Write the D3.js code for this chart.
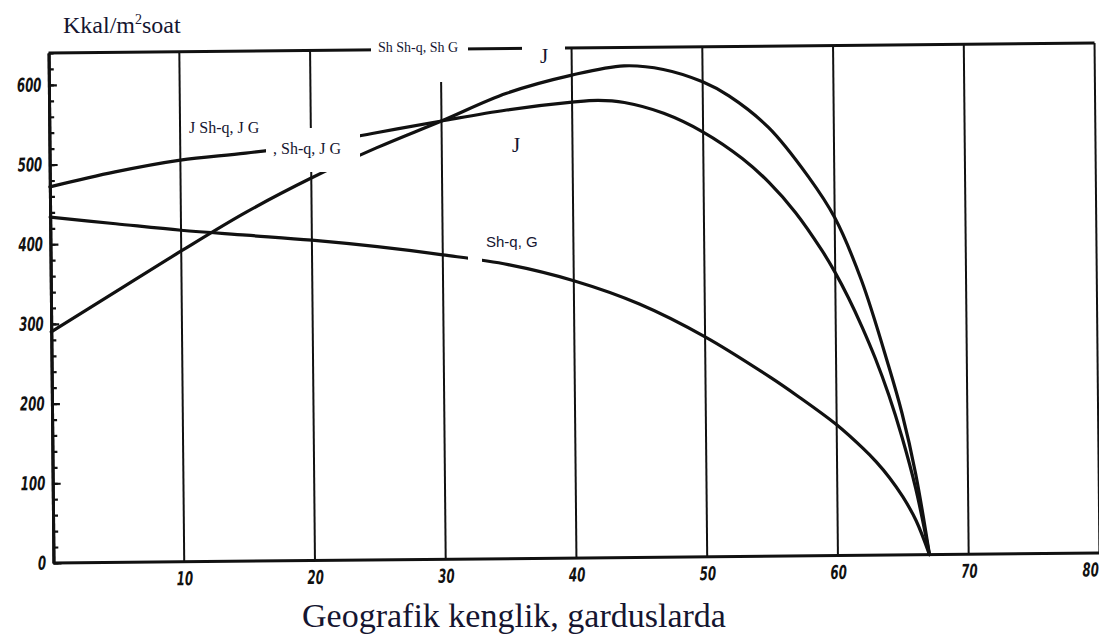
<!DOCTYPE html>
<html>
<head>
<meta charset="utf-8">
<script src="https://cdn.jsdelivr.net/npm/d3@7"></script>
<style>
    body { margin: 0; background: #fff; }
    svg { display: block; }
    .curve { fill: none; stroke: #111; stroke-width: 3.2; stroke-linecap: round; }
    .grid { stroke: #111; stroke-width: 2; }
    .axis path, .axis line { stroke: #111; }
    .axis path { stroke-width: 3; }
    .axis line { stroke-width: 2.2; }
    .axis text { font-family: "DejaVu Sans", sans-serif; font-weight: bold; font-style: italic; fill: #111; }
    .lbl { font-family: "Liberation Serif", "Times New Roman", serif; fill: #151530; }
</style>
</head>
<body>
<svg width="1099" height="636"></svg>
<script>
// latitude (degrees) and flux values (kcal/m2 per hour)
var upperLat = [0, 5, 10, 15, 20, 25, 30, 35, 40, 44, 47, 50, 52, 55, 58, 60, 62, 64, 65, 66, 67];
var upperVal = [290, 340, 390, 438, 480, 517, 550, 584, 606, 617, 612, 596, 578, 538, 476, 424, 345, 238, 178, 102, 0];

var middleLat = [0, 5, 10, 15, 20, 25, 30, 35, 40, 42, 44, 47, 50, 53, 55, 57, 59, 60, 61, 62, 63, 64, 65, 66, 67];
var middleVal = [472, 490, 504, 512, 522, 536, 550, 563, 572, 574, 571, 557, 533, 499, 469, 431, 383, 355, 323, 287, 247, 201, 147, 83, 0];

var lowerLat = [0, 5, 10, 15, 20, 25, 30, 35, 40, 45, 50, 55, 57, 60, 62, 63, 64, 65, 66, 67];
var lowerVal = [434, 425, 416, 409, 402, 393, 382, 369, 348, 318, 276, 224, 201, 164, 134, 117, 97, 73, 43, 0];

var xTicks = [10, 20, 30, 40, 50, 60, 70, 80];
var gridLat = [10, 20, 30, 40, 50, 60, 70];
var yMajor = [0, 100, 200, 300, 400, 500, 600];
var yMinor = d3.range(0, 641, 20);

var svg = d3.select("svg");

var x = d3.scaleLinear().domain([0, 80]).range([51, 1097]);
var y = d3.scaleLinear().domain([0, 640]).range([558, 48]);

// the scanned figure sits slightly tilted
var plot = svg.append("g").attr("transform", "rotate(-0.55,574,303)");

// vertical grid lines and frame
plot.append("g").selectAll("line")
    .data(gridLat)
  .enter().append("line")
    .attr("class", "grid")
    .attr("x1", function(d) { return x(d); })
    .attr("x2", function(d) { return x(d); })
    .attr("y1", y(0))
    .attr("y2", y(640));

plot.append("line")
    .attr("class", "grid")
    .attr("stroke-width", 2.5)
    .attr("x1", x(80)).attr("x2", x(80))
    .attr("y1", y(0)).attr("y2", y(640));

plot.append("line")
    .attr("stroke", "#111").attr("stroke-width", 3)
    .attr("x1", x(0)).attr("x2", x(80))
    .attr("y1", y(640)).attr("y2", y(640));

// y axis: minor ticks, then major ticks with labels
plot.append("g")
    .attr("class", "axis")
    .attr("transform", "translate(" + x(0) + ",0)")
    .call(d3.axisLeft(y).tickValues(yMinor).tickSize(-5).tickSizeOuter(0).tickFormat(""));

var yAxis = plot.append("g")
    .attr("class", "axis")
    .attr("transform", "translate(" + x(0) + ",0)")
    .call(d3.axisLeft(y).tickValues(yMajor).tickSize(-8).tickSizeOuter(0).tickPadding(12));

yAxis.selectAll("text")
    .attr("font-size", 19)
    .attr("transform", "scale(0.62,1)");

// x axis
var xAxis = plot.append("g")
    .attr("class", "axis")
    .attr("transform", "translate(0," + y(0) + ")")
    .call(d3.axisBottom(x).tickValues(xTicks).tickSize(0).tickSizeOuter(0).tickPadding(10));

xAxis.select(".domain").attr("d", "M" + x(0) + ",0H" + x(80));
xAxis.selectAll("text")
    .attr("font-size", 19)
    .attr("transform", "scale(0.62,1)");
// last label sits at the right edge; keep it inside the page
xAxis.selectAll(".tick text")
    .filter(function(d) { return d === 80; })
    .attr("text-anchor", "end")
    .attr("x", -2);

// the three curves
var line = d3.line()
    .x(function(d) { return x(d[0]); })
    .y(function(d) { return y(d[1]); })
    .curve(d3.curveCatmullRom.alpha(0.5));

var series = [
    d3.zip(upperLat, upperVal),
    d3.zip(middleLat, middleVal),
    d3.zip(lowerLat, lowerVal)
];

plot.append("g").selectAll("path")
    .data(series)
  .enter().append("path")
    .attr("class", "curve")
    .attr("d", line);

// pasted-on labels (white patches cut the lines under them)
var patches = [
    [371, 36, 97, 46],
    [522, 36, 43, 30],
    [266, 128, 94, 44],
    [468, 244, 14, 22]
];
svg.append("g").selectAll("rect")
    .data(patches)
  .enter().append("rect")
    .attr("x", function(d) { return d[0]; })
    .attr("y", function(d) { return d[1]; })
    .attr("width", function(d) { return d[2]; })
    .attr("height", function(d) { return d[3]; })
    .attr("fill", "#fff");

var t = svg.append("text").attr("class", "lbl").attr("x", 63).attr("y", 33).attr("font-size", 24);
t.append("tspan").text("Kkal/m");
t.append("tspan").attr("font-size", 14).attr("dy", -9).text("2");
t.append("tspan").attr("dy", 9).text("soat");

svg.append("text").attr("class", "lbl").attr("x", 378).attr("y", 52).attr("font-size", 14).text("Sh Sh-q, Sh G");
svg.append("text").attr("class", "lbl").attr("x", 540).attr("y", 63).attr("font-size", 21).text("J");
svg.append("text").attr("class", "lbl").attr("x", 512).attr("y", 152).attr("font-size", 21).text("J");
svg.append("text").attr("class", "lbl").attr("x", 189).attr("y", 133).attr("font-size", 16).text("J Sh-q, J G");
svg.append("text").attr("class", "lbl").attr("x", 273).attr("y", 154).attr("font-size", 16).text(", Sh-q, J G");
svg.append("text").attr("class", "lbl")
    .attr("x", 486).attr("y", 247).attr("font-size", 15)
    .style("font-family", "'Liberation Sans', Arial, sans-serif")
    .text("Sh-q, G");

svg.append("text").attr("class", "lbl")
    .attr("x", 514).attr("y", 627)
    .attr("text-anchor", "middle")
    .attr("font-size", 34)
    .text("Geografik kenglik, garduslarda");
</script>
</body>
</html>
